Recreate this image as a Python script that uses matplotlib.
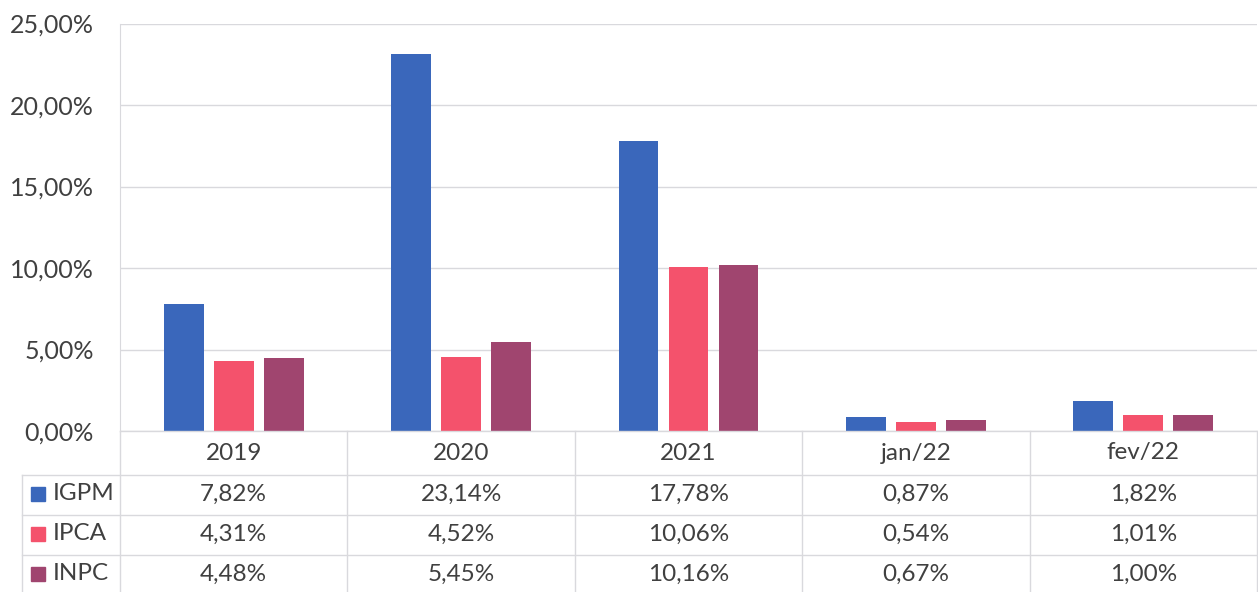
import numpy as np
import matplotlib.pyplot as plt
from matplotlib.transforms import blended_transform_factory

plt.rcParams['font.family'] = ['Lato', 'DejaVu Sans']

categories = ['2019', '2020', '2021', 'jan/22', 'fev/22']
series_names = ['IGPM', 'IPCA', 'INPC']
igpm = [7.82, 23.14, 17.78, 0.87, 1.82]
ipca = [4.31, 4.52, 10.06, 0.54, 1.01]
inpc = [4.48, 5.45, 10.16, 0.67, 1.00]
series = [igpm, ipca, inpc]
colors = ['#3a67bb', '#f4526c', '#a0456f']
TXT = '#404040'
GRID = '#d9d9dd'
FS = 17.5

W, H = 1258, 592
fig = plt.figure(figsize=(W / 100, H / 100), dpi=100)
ax = fig.add_axes([120 / W, 1 - 431 / H, 1137 / W, (431 - 23.5) / H])

x = np.arange(len(categories))
offsets = [-0.22, 0.0, 0.22]
for vals, off, c in zip(series, offsets, colors):
    ax.bar(x + off, vals, width=0.175, color=c, zorder=3)

ax.set_xlim(-0.5, len(categories) - 0.5)
ax.set_ylim(0, 25)
yt = np.arange(0, 26, 5)
ax.set_yticks(yt)
ax.set_yticklabels([f'{v:.2f}%'.replace('.', ',') for v in yt], fontsize=18, color=TXT)
ax.tick_params(axis='y', length=0, pad=19)
ax.set_xticks([])
ax.grid(axis='y', color=GRID, lw=1, zorder=0)
for s in ['top', 'right', 'bottom']:
    ax.spines[s].set_visible(False)
ax.spines['left'].set_color(GRID)

# data table under the axes
tr = blended_transform_factory(ax.transData, fig.transFigure)
def fy(py):
    return 1 - py / H

rows_y = [431, 475, 515, 555, 595]
line_kw = dict(color=GRID, lw=1, clip_on=False)
fig.add_artist(plt.Line2D([120 / W, 1], [fy(431)] * 2, transform=fig.transFigure, **line_kw))
for py in rows_y[1:4]:
    fig.add_artist(plt.Line2D([22 / W, 1], [fy(py)] * 2, transform=fig.transFigure, **line_kw))
for b in np.arange(-0.5, len(categories) - 0.4, 1.0):
    ax.plot([b, b], [fy(431), fy(600)], transform=tr, **line_kw)
fig.add_artist(plt.Line2D([22 / W] * 2, [fy(475), 0], transform=fig.transFigure, **line_kw))

for i, cat in enumerate(categories):
    ax.text(i, fy(453), cat, transform=tr, ha='center', va='center', fontsize=FS, color=TXT)
for r, (name, vals, c) in enumerate(zip(series_names, series, colors)):
    yc = fy((rows_y[r + 1] + rows_y[r + 2]) / 2 - 1)
    for i, v in enumerate(vals):
        ax.text(i, yc, f'{v:.2f}%'.replace('.', ','), transform=tr, ha='center', va='center',
                fontsize=FS, color=TXT)
    fig.add_artist(plt.Rectangle((31 / W, yc - 7 / H), 14 / W, 14 / H, color=c,
                                 transform=fig.transFigure))
    fig.text(53 / W, yc, name, ha='left', va='center', fontsize=FS, color=TXT)

fig.savefig('out.png', dpi=100)
